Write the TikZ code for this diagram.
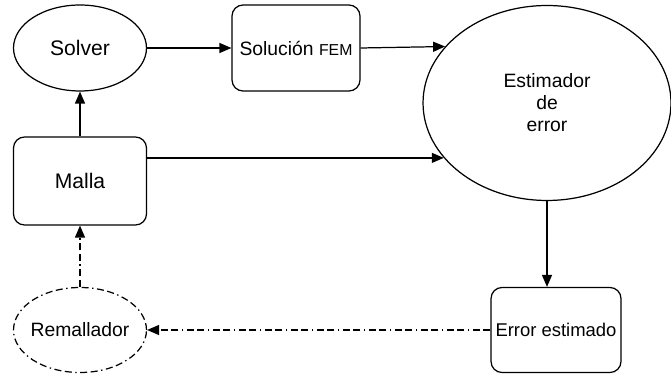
\documentclass[tikz,border=0pt]{standalone}
\usepackage{fontspec}
\setmainfont{Liberation Sans}
\usetikzlibrary{shapes.geometric,arrows.meta}
\tikzset{
	caja/.style = {draw, rounded corners = 0.22cm, inner sep = 0pt, align = center},
	elipse/.style = {draw, ellipse, inner sep = -1mm, align = center},
	flecha/.style = {-{Triangle[length = 2.4mm, width = 2mm]}},
	rayapunto/.style = {dash pattern = on 4pt off 2pt on 4pt off 2pt on 0.8pt off 2pt}
}
\begin{document}
\begin{tikzpicture}[x = 0.02cm, y = -0.02cm, line width = 0.7pt]
		\useasboundingbox (0,0) rectangle (671,377);
		\node[elipse, minimum width = 2.66cm, minimum height = 1.72cm, font = \fontsize{12}{14}\selectfont] (solver) at (80,48) {Solver};
		\node[caja, minimum width = 2.56cm, minimum height = 1.72cm, font = \fontsize{11}{13}\selectfont] (solucion) at (296,48) {Soluci\'on {\fontsize{9}{11}\selectfont FEM}};
		\node[elipse, minimum width = 4.96cm, minimum height = 3.9cm, font = \fontsize{11}{12.5}\selectfont] (estimador) at (547,103) {Estimador\\de\\error};
		\node[caja, minimum width = 2.66cm, minimum height = 1.76cm, font = \fontsize{12}{14}\selectfont] (malla) at (80,181) {Malla};
		\node[caja, minimum width = 2.6cm, minimum height = 1.7cm, font = \fontsize{10.5}{12}\selectfont] (errest) at (556,330) {Error estimado};
		\node[elipse, rayapunto, minimum width = 2.66cm, minimum height = 1.7cm, font = \fontsize{11}{13}\selectfont] (remallador) at (80,330) {Remallador};
		% flechas
		\draw[flecha] (solver) -- (solucion);
		\draw[flecha] (solucion.east) -- (estimador.151.7);
		\draw[flecha] (malla.east |- estimador.208.3) -- (estimador.208.3);
		\draw[flecha] (malla) -- (solver);
		\draw[flecha] (estimador.south) -- (estimador.south |- errest.north);
		\draw[flecha, rayapunto] (errest) -- (remallador);
		\draw[flecha, rayapunto] (remallador) -- (malla);
	\end{tikzpicture}
\end{document}
